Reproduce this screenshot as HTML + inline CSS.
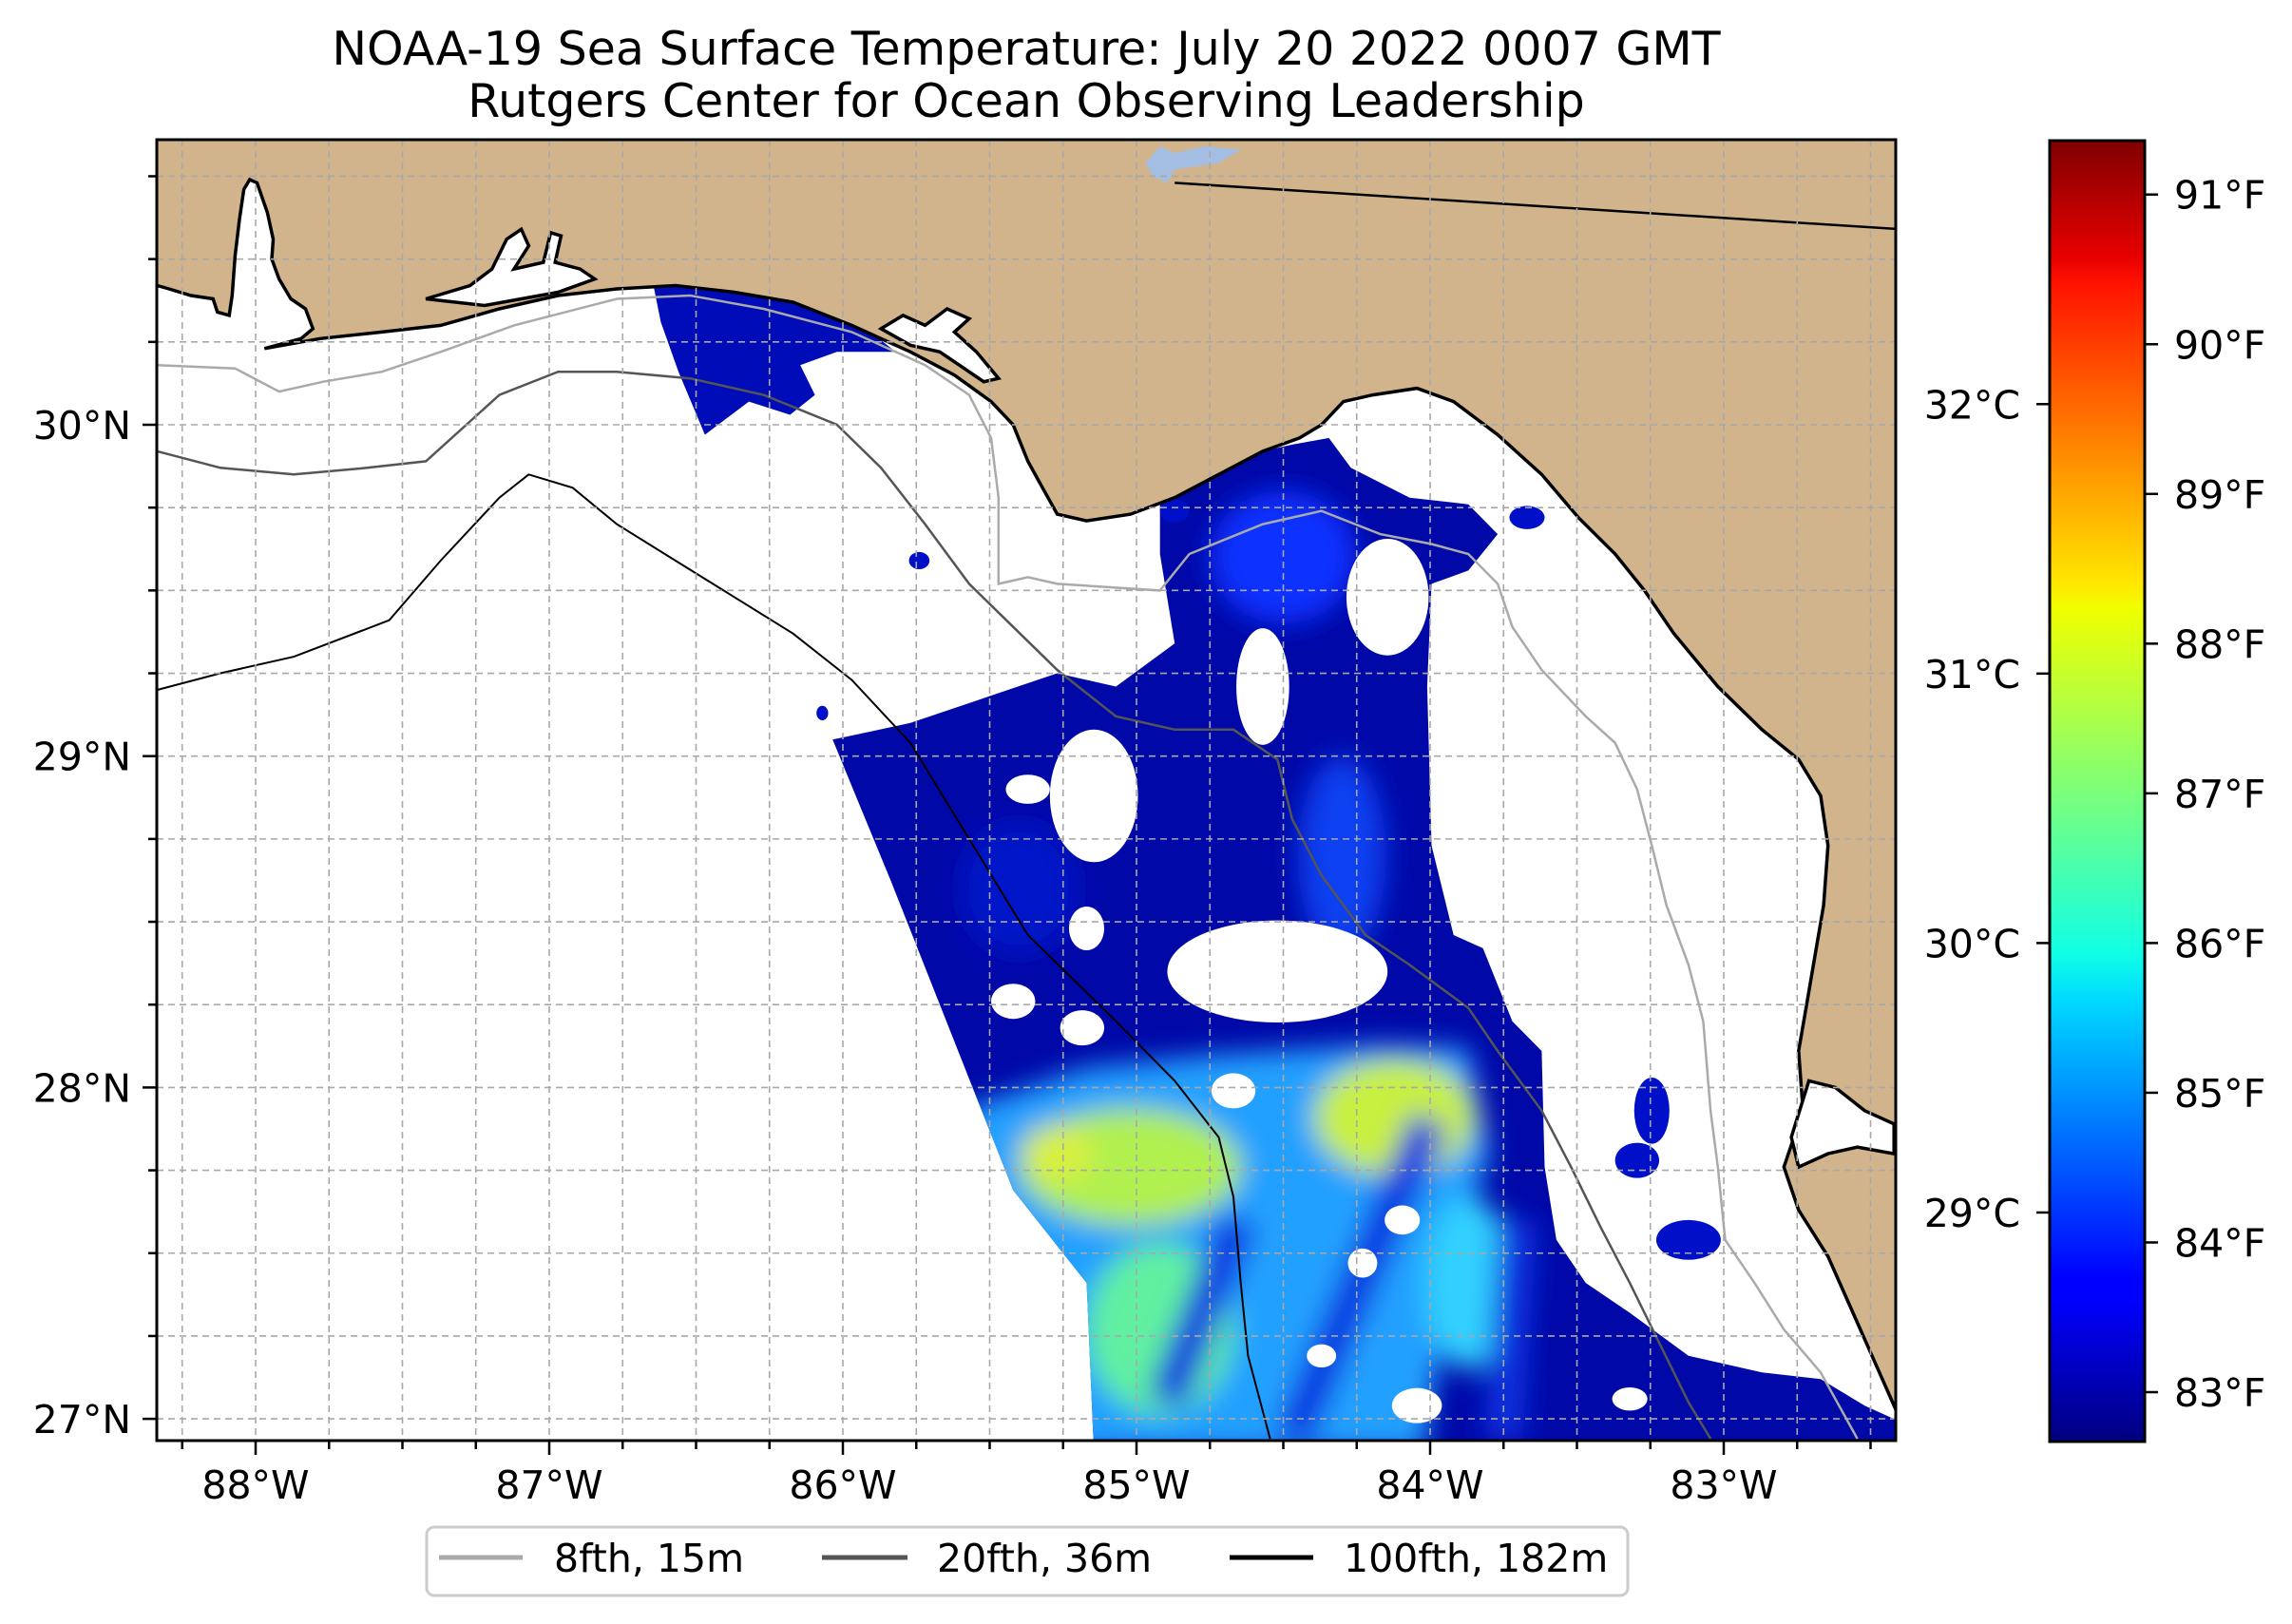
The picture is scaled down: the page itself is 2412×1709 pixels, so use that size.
<!DOCTYPE html>
<html><head><meta charset="utf-8">
<style>
html,body{margin:0;padding:0;background:#fff;}
svg{display:block;font-family:"DejaVu Sans","Liberation Sans",sans-serif;}
</style></head>
<body>
<svg id="fig" width="2412" height="1709" viewBox="0 0 2412 1709" xmlns="http://www.w3.org/2000/svg">
<defs id="defs">
  <clipPath id="mapclip"><rect x="165" y="147" width="1830" height="1369"/></clipPath>
  <clipPath id="swathclip"><path id="swathclippath" d=""/></clipPath>
  <filter id="soft" x="-20%" y="-20%" width="140%" height="140%"><feGaussianBlur stdDeviation="14"/></filter>
  <linearGradient id="jet" x1="0" y1="1" x2="0" y2="0">
    <stop offset="0" stop-color="#000080"/><stop offset="0.11" stop-color="#0000ff"/>
    <stop offset="0.125" stop-color="#0000ff"/><stop offset="0.34" stop-color="#00dbff"/>
    <stop offset="0.375" stop-color="#10ffe6"/><stop offset="0.5" stop-color="#7dff7a"/>
    <stop offset="0.64" stop-color="#f0ff00"/><stop offset="0.66" stop-color="#ffe600"/>
    <stop offset="0.89" stop-color="#ff1200"/><stop offset="0.91" stop-color="#e80000"/>
    <stop offset="1" stop-color="#800000"/>
  </linearGradient>
</defs>
<text x="1080" y="68" font-size="49" text-anchor="middle">NOAA-19 Sea Surface Temperature: July 20 2022 0007 GMT</text>
<text x="1080" y="123" font-size="49" text-anchor="middle">Rutgers Center for Ocean Observing Leadership</text>
<g id="map" clip-path="url(#mapclip)"></g>
<rect x="165" y="147" width="1830" height="1369" fill="none" stroke="#000" stroke-width="3"/>
<g id="axes"></g>
<g id="cbar"></g>
<g>
  <rect x="449" y="1607" width="1264" height="72" rx="8" fill="#fff" stroke="#cccccc" stroke-width="3"/>
  <line x1="462" y1="1639" x2="550" y2="1639" stroke="#aaaaaa" stroke-width="5"/>
  <text x="583" y="1654" font-size="41">8fth, 15m</text>
  <line x1="865" y1="1639" x2="955" y2="1639" stroke="#555555" stroke-width="5"/>
  <text x="986" y="1654" font-size="41">20fth, 36m</text>
  <line x1="1294" y1="1639" x2="1382" y2="1639" stroke="#000000" stroke-width="5"/>
  <text x="1414" y="1654" font-size="41">100fth, 182m</text>
</g>
<script>
// ---- data ----
const lonMajorTicks = [-88, -87, -86, -85, -84, -83];
const lonTickLabels = ["88°W", "87°W", "86°W", "85°W", "84°W", "83°W"];
const latMajorTicks = [27, 28, 29, 30];
const latTickLabels = ["27°N", "28°N", "29°N", "30°N"];
const lonExtent = [-88.335, -82.395];
const latExtent = [26.934, 30.86];
const cbarRangeF = [82.67, 91.36];
const fTicks = [83, 84, 85, 86, 87, 88, 89, 90, 91];
const fTickLabels = ["83°F","84°F","85°F","86°F","87°F","88°F","89°F","90°F","91°F"];
const cTicks = [29, 30, 31, 32];
const cTickLabels = ["29°C","30°C","31°C","32°C"];

const coastline = [[-88.335,30.42],[-88.295,30.41],[-88.22,30.39],[-88.145,30.38],[-88.13,30.34],[-88.09,30.33],[-88.08,30.39],[-88.07,30.51],[-88.055,30.62],[-88.04,30.71],[-88.02,30.74],[-87.995,30.73],[-87.96,30.64],[-87.94,30.56],[-87.945,30.50],[-87.92,30.44],[-87.88,30.38],[-87.83,30.35],[-87.805,30.29],[-87.845,30.26],[-87.97,30.23],[-87.78,30.26],[-87.57,30.28],[-87.37,30.30],[-87.17,30.35],[-86.97,30.39],[-86.77,30.41],[-86.57,30.42],[-86.37,30.40],[-86.17,30.37],[-85.97,30.30],[-85.77,30.22],[-85.62,30.15],[-85.495,30.07],[-85.42,30.00],[-85.37,29.89],[-85.32,29.81],[-85.27,29.73],[-85.17,29.71],[-85.02,29.73],[-84.87,29.78],[-84.72,29.85],[-84.57,29.92],[-84.445,29.96],[-84.37,30.00],[-84.295,30.07],[-84.195,30.09],[-84.045,30.11],[-83.92,30.07],[-83.77,29.97],[-83.62,29.85],[-83.495,29.72],[-83.37,29.61],[-83.27,29.50],[-83.17,29.37],[-83.02,29.21],[-82.87,29.08],[-82.745,28.99],[-82.67,28.88],[-82.645,28.73],[-82.66,28.55],[-82.71,28.29],[-82.745,28.11],[-82.73,27.93],[-82.795,27.76],[-82.745,27.63],[-82.645,27.49],[-82.56,27.32],[-82.47,27.14],[-82.395,26.99]];
const bayPensacola = [[-87.42,30.38],[-87.27,30.42],[-87.195,30.47],[-87.145,30.56],[-87.095,30.59],[-87.07,30.54],[-87.12,30.47],[-87.02,30.49],[-86.995,30.58],[-86.96,30.57],[-86.98,30.49],[-86.895,30.47],[-86.845,30.44],[-86.97,30.40],[-87.22,30.36]];
const bayStAndrew = [[-85.87,30.29],[-85.795,30.33],[-85.72,30.30],[-85.645,30.35],[-85.57,30.32],[-85.62,30.28],[-85.545,30.22],[-85.47,30.14],[-85.52,30.13],[-85.67,30.22],[-85.77,30.24]];
const bayTampa = [[-82.71,28.02],[-82.62,28.00],[-82.52,27.93],[-82.42,27.89],[-82.42,27.80],[-82.545,27.82],[-82.645,27.80],[-82.745,27.76],[-82.77,27.85]];
const lake = [[-84.97,30.79],[-84.92,30.84],[-84.87,30.82],[-84.77,30.84],[-84.645,30.83],[-84.72,30.79],[-84.87,30.77],[-84.895,30.73],[-84.945,30.75]];
const stateLine = [[-84.87,30.73],[-82.395,30.59]];
const contour8 = [[-88.335,30.18],[-88.07,30.17],[-87.92,30.10],[-87.77,30.13],[-87.57,30.16],[-87.37,30.22],[-87.12,30.30],[-86.77,30.38],[-86.52,30.39],[-86.27,30.35],[-85.97,30.28],[-85.72,30.18],[-85.57,30.09],[-85.495,29.96],[-85.47,29.78],[-85.47,29.52],[-85.37,29.54],[-85.27,29.52],[-84.92,29.50],[-84.82,29.61],[-84.57,29.70],[-84.37,29.74],[-84.17,29.67],[-83.995,29.64],[-83.87,29.61],[-83.77,29.52],[-83.72,29.39],[-83.62,29.26],[-83.47,29.12],[-83.37,29.04],[-83.295,28.90],[-83.245,28.73],[-83.195,28.55],[-83.12,28.37],[-83.07,28.20],[-83.045,27.93],[-83.02,27.76],[-82.995,27.54],[-82.895,27.41],[-82.795,27.27],[-82.67,27.14],[-82.545,26.94]];
const contour20 = [[-88.335,29.92],[-88.12,29.87],[-87.87,29.85],[-87.62,29.87],[-87.42,29.89],[-87.17,30.09],[-86.97,30.16],[-86.77,30.16],[-86.52,30.14],[-86.27,30.09],[-86.02,30.00],[-85.87,29.87],[-85.72,29.70],[-85.57,29.52],[-85.42,29.39],[-85.27,29.26],[-85.07,29.12],[-84.87,29.08],[-84.67,29.08],[-84.52,28.99],[-84.47,28.81],[-84.37,28.64],[-84.22,28.46],[-84.07,28.37],[-83.87,28.24],[-83.77,28.11],[-83.62,27.93],[-83.52,27.76],[-83.42,27.58],[-83.32,27.41],[-83.22,27.23],[-83.12,27.05],[-83.045,26.94]];
const contour100 = [[-88.335,29.20],[-88.12,29.25],[-87.87,29.30],[-87.545,29.41],[-87.37,29.59],[-87.17,29.78],[-87.07,29.85],[-86.92,29.81],[-86.77,29.70],[-86.57,29.59],[-86.37,29.48],[-86.17,29.37],[-85.97,29.23],[-85.77,29.04],[-85.57,28.75],[-85.37,28.46],[-85.07,28.20],[-84.87,28.02],[-84.72,27.85],[-84.67,27.67],[-84.645,27.41],[-84.62,27.19],[-84.545,26.94]];
const sstMain = [[-86.035,29.05],[-85.77,29.10],[-85.47,29.19],[-85.27,29.25],[-85.07,29.21],[-84.87,29.34],[-84.92,29.61],[-84.92,29.76],[-84.82,29.83],[-84.62,29.91],[-84.47,29.94],[-84.345,29.96],[-84.27,29.87],[-84.07,29.78],[-83.87,29.76],[-83.77,29.67],[-83.87,29.56],[-83.995,29.52],[-84.01,29.21],[-83.995,28.73],[-83.92,28.46],[-83.82,28.42],[-83.72,28.20],[-83.62,28.11],[-83.61,27.76],[-83.57,27.54],[-83.47,27.41],[-83.32,27.32],[-83.12,27.19],[-82.87,27.14],[-82.67,27.12],[-82.52,27.04],[-82.395,26.99],[-82.395,26.90],[-85.145,26.90],[-85.17,27.41],[-85.42,27.69],[-85.835,28.62]];
const sstNorth = [[-86.645,30.42],[-86.545,30.47],[-86.42,30.49],[-86.395,30.42],[-86.145,30.38],[-85.92,30.29],[-85.82,30.22],[-86.02,30.22],[-86.145,30.18],[-86.095,30.09],[-86.18,30.03],[-86.32,30.07],[-86.47,29.97],[-86.56,30.16],[-86.62,30.31]];
const sstWarmZone = [[-85.6,27.93],[-85.17,28.06],[-84.72,28.10],[-84.17,28.13],[-83.87,28.12],[-83.795,27.80],[-83.92,27.49],[-84.02,26.90],[-85.3,26.90],[-85.3,27.41],[-85.6,27.69]];
// [lon, lat, rxDeg, ryDeg, colour]
const sstBlobs = [[-85.02,27.76,0.375,0.176,"#b0f050"],[-84.12,27.91,0.275,0.176,"#c8f040"],[-84.92,27.27,0.25,0.26,"#60f0a0"],[-85.27,27.80,0.125,0.088,"#d8f040"],[-83.87,27.41,0.15,0.26,"#30d0ff"],[-84.5,29.6,0.25,0.2,"#0a30ff"],[-84.3,28.7,0.15,0.3,"#1040f0"],[-85.4,28.6,0.2,0.2,"#0018c8"]];
const sstSmall = [[-85.74,29.59,0.035,0.026],[-86.07,29.13,0.02,0.022],[-83.245,27.93,0.06,0.1],[-83.295,27.78,0.075,0.053],[-83.12,27.54,0.11,0.06],[-83.67,29.72,0.06,0.035],[-84.87,29.74,0.05,0.035]];
const cloudHoles = [[-84.145,29.48,0.14,0.176],[-84.52,28.35,0.375,0.154],[-85.145,28.88,0.15,0.2],[-84.57,29.21,0.09,0.176],[-85.37,28.90,0.075,0.044],[-85.17,28.48,0.06,0.066],[-85.42,28.26,0.075,0.053],[-85.185,28.18,0.075,0.053],[-84.67,27.99,0.075,0.053],[-84.095,27.60,0.06,0.044],[-84.23,27.47,0.05,0.044],[-84.37,27.19,0.05,0.035],[-84.045,27.04,0.085,0.053],[-83.32,27.06,0.06,0.035]];
const blueStreaks = [[[-84.47,26.94],[-84.2,27.5],[-84.0,27.9]],[[-84.9,27.05],[-84.65,27.6]],[[-83.75,26.94],[-83.7,27.6]]];

// ---- scales ----
const X0=269, PXLON=309, Y30=447, PXLAT=348.7;
function xs(lon){return X0+(lon+88)*PXLON;}
function ys(lat){return Y30+(30-lat)*PXLAT;}
const CB={x:2157,w:100,top:148,bot:1517};
function cy(f){return CB.bot-(f-cbarRangeF[0])/(cbarRangeF[1]-cbarRangeF[0])*(CB.bot-CB.top);}
const NS="http://www.w3.org/2000/svg";
function el(tag,attrs,parent){const e=document.createElementNS(NS,tag);for(const k in attrs)e.setAttribute(k,attrs[k]);parent.appendChild(e);return e;}
function pth(pts,close){return pts.map((p,i)=>(i?"L":"M")+xs(p[0]).toFixed(1)+","+ys(p[1]).toFixed(1)).join("")+(close?"Z":"");}

document.getElementById("swathclippath").setAttribute("d",pth(sstMain,true));
const map=document.getElementById("map");
// SST
let g=el("g",{},map);


let e=el("path",{d:pth(sstMain,true),fill:"#0008a8"},g);


e=el("path",{d:pth(sstNorth,true),fill:"#000cb8"},g);


const warmClip=el("g",{"clip-path":"url(#swathclip)"},g);
const warm=el("g",{filter:"url(#soft)"},warmClip);
e=el("path",{d:pth(sstWarmZone,true),fill:"#20a0ff"},warm);


sstBlobs.forEach(b=>{
  const c=el("ellipse",{cx:xs(b[0]),cy:ys(b[1]),rx:b[2]*PXLON,ry:b[3]*PXLAT,fill:b[4]},warm);
  
  
});
blueStreaks.forEach(s=>{
  const c=el("path",{d:pth(s,false),fill:"none",stroke:"#1030e0","stroke-width":40},warm);
  
  
});
sstSmall.forEach(b=>{
  const c=el("ellipse",{cx:xs(b[0]),cy:ys(b[1]),rx:b[2]*PXLON,ry:b[3]*PXLAT,fill:"#0010c8"},g);
  
  
});
cloudHoles.forEach(b=>{
  const c=el("ellipse",{cx:xs(b[0]),cy:ys(b[1]),rx:b[2]*PXLON,ry:b[3]*PXLAT,fill:"#ffffff"},g);
  
  
});
// contours
[[contour8,"#aaaaaa",2.5,"contour-8fth"],[contour20,"#555555",2.5,"contour-20fth"],[contour100,"#000000",2,"contour-100fth"]].forEach(c=>{
  const p=el("path",{d:pth(c[0],false),fill:"none",stroke:c[1],"stroke-width":c[2]},map);
  
  
});
// land
const landPts=coastline.concat([[-82.395,31.0],[-88.335,31.0]]);
e=el("path",{d:pth(landPts,true),fill:"#d2b48c",stroke:"none"},map);


e=el("path",{d:pth(coastline,false),fill:"none",stroke:"#000","stroke-width":3.5},map);


[[bayPensacola,"bay-pensacola"],[bayStAndrew,"bay-st-andrew"],[bayTampa,"bay-tampa"]].forEach(b=>{
  const p=el("path",{d:pth(b[0],true),fill:"#fff",stroke:"#000","stroke-width":3.5},map);
  
  
});
e=el("path",{d:pth(lake,true),fill:"#a3bde3"},map);


e=el("path",{d:pth(stateLine,false),fill:"none",stroke:"#000","stroke-width":2.5},map);


// gridlines
const gg=el("g",{stroke:"#a8a8a8","stroke-width":1.6,"stroke-dasharray":"7,5",fill:"none"},map);


for(let lon=-88.25;lon<=lonExtent[1];lon+=0.25){el("line",{x1:xs(lon),x2:xs(lon),y1:147,y2:1516},gg);}
for(let lat=27;lat<=latExtent[1];lat+=0.25){el("line",{x1:165,x2:1995,y1:ys(lat),y2:ys(lat)},gg);}
// axes ticks
const ax=document.getElementById("axes");
for(let lon=-88.25;lon<=lonExtent[1];lon+=0.25){
  const major=Math.abs(lon-Math.round(lon))<1e-6;
  el("line",{x1:xs(lon),x2:xs(lon),y1:1516,y2:1516+(major?15:9),stroke:"#000","stroke-width":2.5},ax);
}
for(let lat=27;lat<=latExtent[1];lat+=0.25){
  const major=Math.abs(lat-Math.round(lat))<1e-6;
  el("line",{x1:165,x2:165-(major?15:9),y1:ys(lat),y2:ys(lat),stroke:"#000","stroke-width":2.5},ax);
}
lonMajorTicks.forEach((v,i)=>{
  const t=el("text",{x:xs(v),y:1577,"font-size":41,"text-anchor":"middle"},ax);
  t.textContent=lonTickLabels[i];
  
  
});
latMajorTicks.forEach((v,i)=>{
  const t=el("text",{x:138,y:ys(v)+15,"font-size":41,"text-anchor":"end"},ax);
  t.textContent=latTickLabels[i];
  
  
});
// colorbar
const cb=document.getElementById("cbar");
e=el("rect",{x:CB.x,y:CB.top,width:CB.w,height:CB.bot-CB.top,fill:"url(#jet)",stroke:"#000","stroke-width":3},cb);


fTicks.forEach((f,i)=>{
  el("line",{x1:CB.x+CB.w,x2:CB.x+CB.w+14,y1:cy(f),y2:cy(f),stroke:"#000","stroke-width":2.5},cb);
  const t=el("text",{x:2288,y:cy(f)+15,"font-size":41},cb);
  t.textContent=fTickLabels[i];
  
  
});
cTicks.forEach((c,i)=>{
  const f=c*9/5+32;
  el("line",{x1:CB.x,x2:CB.x-14,y1:cy(f),y2:cy(f),stroke:"#000","stroke-width":2.5},cb);
  const t=el("text",{x:2126,y:cy(f)+15,"font-size":41,"text-anchor":"end"},cb);
  t.textContent=cTickLabels[i];
  
  
});
</script>
</svg>
</body></html>
